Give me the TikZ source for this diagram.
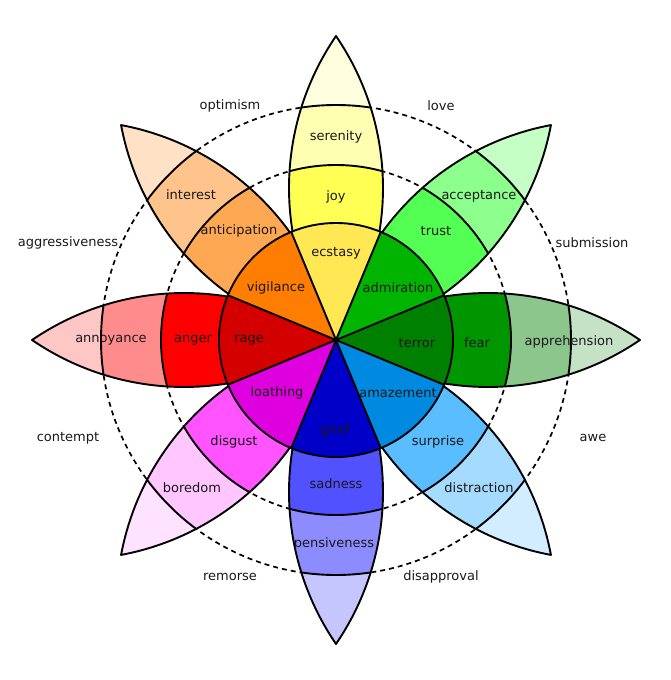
\documentclass[tikz,border=0pt]{standalone}
\usepackage{fontspec}
\setmainfont{DejaVu Sans}
\definecolor{joy0}{HTML}{FFE854}\definecolor{joy1}{HTML}{FFFF54}\definecolor{joy2}{HTML}{FFFFB1}\definecolor{joy3}{HTML}{FFFFE0}
\definecolor{trust0}{HTML}{00B400}\definecolor{trust1}{HTML}{54FF54}\definecolor{trust2}{HTML}{8CFF8C}\definecolor{trust3}{HTML}{C6FFC6}
\definecolor{fear0}{HTML}{008000}\definecolor{fear1}{HTML}{009600}\definecolor{fear2}{HTML}{8CC68C}\definecolor{fear3}{HTML}{C6E2C6}
\definecolor{surprise0}{HTML}{0089E0}\definecolor{surprise1}{HTML}{59BDFF}\definecolor{surprise2}{HTML}{A5DBFF}\definecolor{surprise3}{HTML}{D2EDFF}
\definecolor{sadness0}{HTML}{0000C8}\definecolor{sadness1}{HTML}{5151FF}\definecolor{sadness2}{HTML}{8C8CFF}\definecolor{sadness3}{HTML}{C6C6FF}
\definecolor{disgust0}{HTML}{DE00DE}\definecolor{disgust1}{HTML}{FF54FF}\definecolor{disgust2}{HTML}{FFC6FF}\definecolor{disgust3}{HTML}{FFE2FF}
\definecolor{anger0}{HTML}{D40000}\definecolor{anger1}{HTML}{FF0000}\definecolor{anger2}{HTML}{FF8C8C}\definecolor{anger3}{HTML}{FFC6C6}
\definecolor{anticipation0}{HTML}{FF7D00}\definecolor{anticipation1}{HTML}{FFA854}\definecolor{anticipation2}{HTML}{FFC48C}\definecolor{anticipation3}{HTML}{FFE2C6}
\begin{document}
\begin{tikzpicture}[x=1pt,y=1pt,
	lens/.style={insert path={(0,0) arc[start angle=124.36,end angle=55.64,radius=269.29] arc[start angle=-55.64,end angle=-124.36,radius=269.29] -- cycle}},
	edge/.style={black,line width=1.9pt,line join=round},
	guide/.style={black,line width=1.7pt,dash pattern=on 5pt off 4pt},
	every node/.style={inner sep=0pt,yshift=-1pt,text=black!90,font=\fontsize{13}{15}\selectfont}]
		\useasboundingbox (-336,-340) rectangle (335,340);
		\draw [guide] (0,0) circle (175) (0,0) circle (235);
		\foreach \a/\p in {90/joy,45/trust,0/fear,-45/surprise,-90/sadness,-135/disgust,180/anger,135/anticipation}{
			\begin{scope}[rotate=\a]
				\fill [fill=\p3, lens];
				\begin{scope}
					\clip [lens];
					\fill [fill=\p2] (0,0) circle (235);
					\fill [fill=\p1] (0,0) circle (175);
					\draw [edge] (0,0) circle (235) (0,0) circle (175);
				\end{scope}
				\draw [edge, lens];
			\end{scope}
		}
		\foreach \a/\p in {90/joy,45/trust,0/fear,-45/surprise,-90/sadness,-135/disgust,180/anger,135/anticipation}
			\fill [fill=\p0] (0,0) -- ({\a-22.5}:117) arc[start angle={\a-22.5},end angle={\a+22.5},radius=117] -- cycle;
		\foreach \a in {22.5,67.5,...,337.5}
			\draw [edge] (0,0) -- (\a:117);
		\draw [edge] (0,0) circle (117);
		\node (serenity) at (0,204) {serenity};
		\node (joy) at (0,144) {joy};
		\node (ecstasy) at (0,88) {ecstasy};
		\node (acceptance) at (143,145) {acceptance};
		\node (trust) at (100,110) {trust};
		\node (admiration) at (62,53) {admiration};
		\node (apprehension) at (233,-1) {apprehension};
		\node (fear) at (141,-2) {fear};
		\node (terror) at (81,-2) {terror};
		\node (distraction) at (143,-147) {distraction};
		\node (surprise) at (102,-101) {surprise};
		\node (amazement) at (62,-52) {amazement};
		\node (pensiveness) at (-2,-203) {pensiveness};
		\node (sadness) at (0,-143) {sadness};
		\node (grief) at (-1,-90) {grief};
		\node (boredom) at (-144,-147) {boredom};
		\node (disgust) at (-102,-101) {disgust};
		\node (loathing) at (-59,-52) {loathing};
		\node (annoyance) at (-225,1) {annoyance};
		\node (anger) at (-143,1) {anger};
		\node (rage) at (-87,1) {rage};
		\node (interest) at (-145,146) {interest};
		\node (anticipation) at (-97,110) {anticipation};
		\node (vigilance) at (-60,53) {vigilance};
		\node (optimism) at (-106,235) {optimism};
		\node (love) at (105,235) {love};
		\node (submission) at (256,98) {submission};
		\node (awe) at (257,-97) {awe};
		\node (disapproval) at (105,-236) {disapproval};
		\node (remorse) at (-106,-236) {remorse};
		\node (contempt) at (-268,-97) {contempt};
		\node (aggressiveness) at (-268,98) {aggressiveness};
	\end{tikzpicture}
\end{document}
